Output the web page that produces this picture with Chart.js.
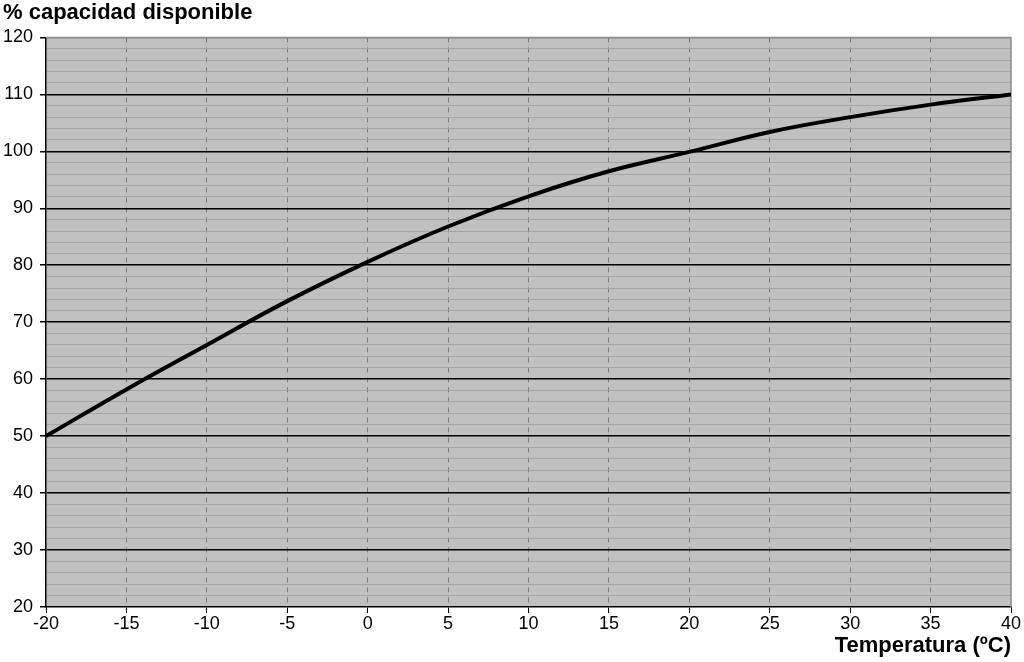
<!DOCTYPE html>
<html>
<head>
<meta charset="utf-8">
<script src="https://cdn.jsdelivr.net/npm/chart.js@4/dist/chart.umd.min.js"></script>
<style>
  html, body { margin: 0; padding: 0; background: #fff; }
  #wrap { width: 1024px; height: 662px; }
</style>
</head>
<body>
<div id="wrap"><canvas id="capChart"></canvas></div>
<script>
// datos
const temperaturas = [-20, -15, -10, -5, 0, 5, 10, 15, 20, 25, 30, 35, 40];
const capacidad = [50, 58.2, 66.0, 73.7, 80.6, 86.8, 92.1, 96.5, 99.9, 103.4, 106.0, 108.2, 110];
const yTicks = [20, 30, 40, 50, 60, 70, 80, 90, 100, 110, 120];
const xTicks = [-20, -15, -10, -5, 0, 5, 10, 15, 20, 25, 30, 35, 40];

const tituloY = '% capacidad disponible';
const tituloX = 'Temperatura (ºC)';

const FONT = "'Liberation Sans', Arial, sans-serif";

// fondo gris del area de trazado y borde superior/derecho
const plotArea = {
    id: 'plotArea',
    beforeDraw(chart) {
        const { ctx, chartArea: a } = chart;
        ctx.save();
        ctx.fillStyle = '#c0c0c0';
        ctx.fillRect(a.left, a.top, a.right - a.left, a.bottom - a.top);
        ctx.restore();
    },
    beforeDatasetsDraw(chart) {
        const { ctx, chartArea: a } = chart;
        ctx.save();
        ctx.strokeStyle = '#8c8c8c';
        ctx.lineWidth = 1.5;
        ctx.beginPath();
        ctx.moveTo(a.left, a.top);
        ctx.lineTo(a.right, a.top);
        ctx.lineTo(a.right, a.bottom);
        ctx.stroke();
        ctx.restore();
    }
};

document.addEventListener("DOMContentLoaded", function() {
    const ctx = document.getElementById('capChart');
    new Chart(ctx, {
        type: 'line',
        data: {
            datasets: [{
                data: temperaturas.map((t, i) => ({ x: t, y: capacidad[i] })),
                borderColor: '#000',
                borderWidth: 4,
                pointRadius: 0,
                tension: 0.4,
                fill: false
            }]
        },
        options: {
            responsive: true,
            maintainAspectRatio: false,
            animation: false,
            layout: { padding: { left: 3, right: 13, top: 0, bottom: 0 } },
            plugins: {
                legend: { display: false },
                tooltip: { enabled: false },
                title: {
                    display: true,
                    text: tituloY,
                    align: 'start',
                    color: '#000',
                    font: { family: FONT, size: 22, weight: 'bold', lineHeight: 1.2 },
                    padding: { top: 0, bottom: 11 }
                }
            },
            scales: {
                x: {
                    type: 'linear',
                    min: xTicks[0],
                    max: xTicks[xTicks.length - 1],
                    afterBuildTicks(scale) {
                        scale.ticks = xTicks.map(v => ({ value: v }));
                    },
                    afterFit(scale) { scale.height = 55; },
                    ticks: {
                        color: '#000',
                        font: { family: FONT, size: 18 },
                        padding: 0,
                        maxRotation: 0,
                        autoSkip: false
                    },
                    grid: {
                        color: c => (c.tick && (c.tick.value === xTicks[0] || c.tick.value === xTicks[xTicks.length - 1])) ? 'rgba(0,0,0,0)' : '#7a7a7a',
                        lineWidth: 1,
                        tickColor: '#000',
                        tickLength: 6,
                        tickBorderDash: []
                    },
                    border: { display: true, color: '#000', width: 1.5, dash: [5, 5] },
                    title: {
                        display: true,
                        text: tituloX,
                        align: 'end',
                        color: '#000',
                        font: { family: FONT, size: 22, weight: 'bold', lineHeight: 1.2 },
                        padding: { top: 0, bottom: 3 }
                    }
                },
                y: {
                    min: yTicks[0],
                    max: yTicks[yTicks.length - 1],
                    ticks: {
                        stepSize: 2,
                        color: '#000',
                        font: { family: FONT, size: 18 },
                        padding: 7,
                        autoSkip: false,
                        callback: v => (yTicks.includes(v) ? v : '')
                    },
                    afterFit(scale) { scale.width = 43; },
                    grid: {
                        color: c => {
                            const v = c.tick ? c.tick.value : 0;
                            if (v === yTicks[0]) return 'rgba(0,0,0,0)';
                            if (v === yTicks[yTicks.length - 1]) return '#8c8c8c';
                            return yTicks.includes(v) ? '#000' : '#a6a6a6';
                        },
                        lineWidth: c => (c.tick && yTicks.includes(c.tick.value) ? 1.5 : 1),
                        tickColor: c => (c.tick && yTicks.includes(c.tick.value) ? '#000' : 'rgba(0,0,0,0)'),
                        tickLength: 6
                    },
                    border: { display: true, color: '#000', width: 1.5 }
                }
            }
        },
        plugins: [plotArea]
    });
});
</script>
</body>
</html>
